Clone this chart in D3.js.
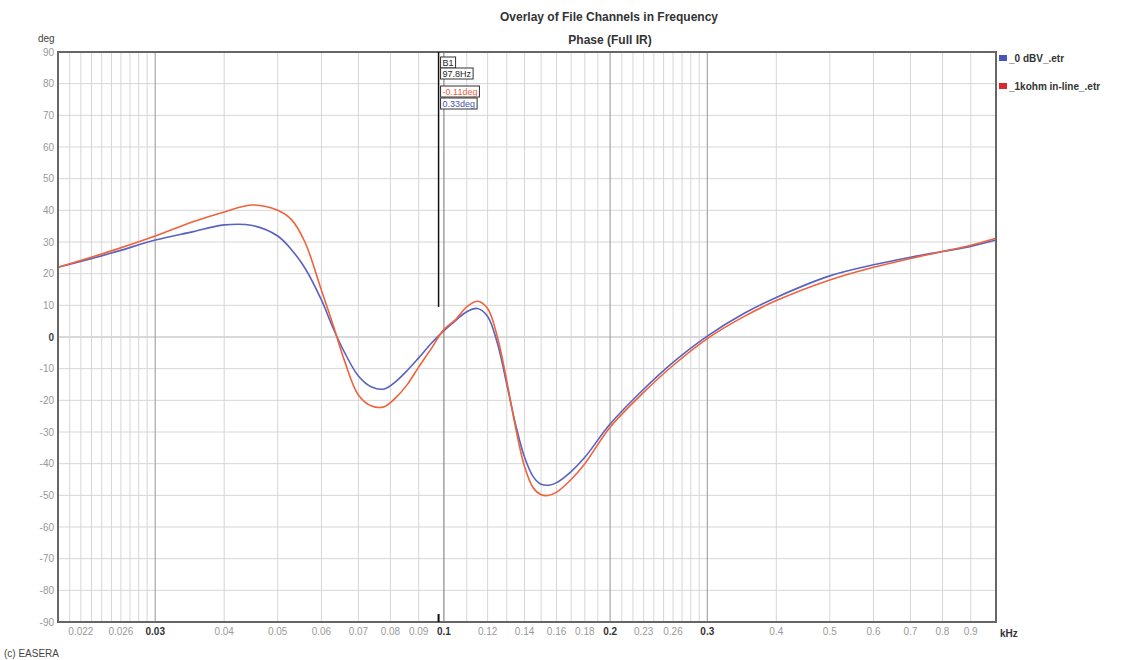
<!DOCTYPE html>
<html>
<head>
<meta charset="utf-8">
<script src="https://cdn.jsdelivr.net/npm/d3@7"></script>
<style>
  html, body { margin: 0; padding: 0; background: #fff; }
  svg { display: block; font-family: "Liberation Sans", Arial, sans-serif; }
</style>
</head>
<body>
<div id="chart"></div>
<script>
// frequencies in kHz, phase in degrees
const freqs = [0.02, 0.025, 0.03, 0.035, 0.04, 0.045, 0.05, 0.053, 0.056, 0.06,
  0.063, 0.066, 0.07, 0.074, 0.078, 0.082, 0.086, 0.09, 0.095, 0.1,
  0.105, 0.11, 0.115, 0.12, 0.125, 0.13, 0.135, 0.14, 0.145, 0.15,
  0.155, 0.16, 0.17, 0.18, 0.2, 0.23, 0.26, 0.3, 0.35, 0.4,
  0.5, 0.6, 0.7, 0.8, 0.9, 1.0];

const phase0dBV = [22, 26.5, 30.6, 33.2, 35.4, 35.2, 31.9, 27.5, 21.8, 11.7,
  2.8, -4.7, -12.3, -15.8, -16.4, -13.9, -10.4, -6.6, -1.9, 2,
  5.2, 8, 9, 6.5, -2, -15, -28, -38, -44, -46.5,
  -46.8, -46, -42.5, -38, -27.5, -16.5, -8, 0.3, 7.5, 12.5,
  19.3, 22.8, 25.2, 27, 28.6, 30.6];

const phase1kohm = [22, 27.2, 31.9, 36.3, 39.5, 41.7, 40, 37, 30, 14.8,
  3.8, -7.3, -18.3, -21.8, -22, -19, -14.8, -9.5, -3.5, 2.4,
  5.5, 9.5, 11.3, 9, 0, -14, -29, -41, -47.5, -49.8,
  -50, -49, -45, -40, -28.5, -17.5, -9, -0.5, 6.5, 11.5,
  18, 22, 24.8, 27, 29, 31.2];

const seriesNames = ["_0 dBV_.etr", "_1kohm in-line_.etr"];
const seriesColors = ["#5a62bf", "#f0623c"];
const legendColors = ["#4a55b5", "#e2242c"];

const yTicks = d3.range(-90, 91, 10);
const xMajor = [0.03, 0.1, 0.2, 0.3];
const xMinor = [0.021, 0.022, 0.023, 0.024, 0.025, 0.026, 0.027, 0.028, 0.029,
  0.04, 0.05, 0.06, 0.07, 0.08, 0.09,
  0.11, 0.12, 0.13, 0.14, 0.15, 0.16, 0.17, 0.18, 0.19,
  0.21, 0.22, 0.23, 0.24, 0.25, 0.26, 0.27, 0.28, 0.29,
  0.4, 0.5, 0.6, 0.7, 0.8, 0.9];
const xLabels = [0.022, 0.026, 0.03, 0.04, 0.05, 0.06, 0.07, 0.08, 0.09, 0.1,
  0.12, 0.14, 0.16, 0.18, 0.2, 0.23, 0.26, 0.3, 0.4, 0.5, 0.6, 0.7, 0.8, 0.9];

const cursorFreq = 0.0978;
const cursorTop = 90, cursorBottom = 9.5;
const cursorLabels = ["B1", "97.8Hz", "-0.11deg", "0.33deg"];
const cursorLabelColors = ["#222", "#222", "#f0623c", "#4a55b5"];

const W = 1129, H = 660;
const plot = { left: 58, right: 996, top: 52, bottom: 622 };

const x = d3.scaleLog().domain([0.02, 1.0]).range([plot.left, plot.right]);
const y = d3.scaleLinear().domain([-90, 90]).range([plot.bottom, plot.top]);

const svg = d3.select("#chart").append("svg")
  .attr("width", W).attr("height", H)
  .attr("viewBox", [0, 0, W, H]);

// titles
svg.append("text")
  .attr("x", 609).attr("y", 21)
  .attr("text-anchor", "middle")
  .attr("font-size", 12).attr("font-weight", "bold").attr("fill", "#333")
  .text("Overlay of File Channels in Frequency");
svg.append("text")
  .attr("x", 610).attr("y", 44)
  .attr("text-anchor", "middle")
  .attr("font-size", 12).attr("font-weight", "bold").attr("fill", "#333")
  .text("Phase (Full IR)");

// grid
let grid = svg.append("g");
grid.selectAll("line.ygrid")
  .data(yTicks)
  .join("line")
  .attr("class", "ygrid")
  .attr("x1", plot.left).attr("x2", plot.right)
  .attr("y1", d => y(d)).attr("y2", d => y(d))
  .attr("stroke", d => d === 0 ? "#b4b4b4" : "#d6d6d6")
  .attr("stroke-width", 1);
grid.selectAll("line.xminor")
  .data(xMinor)
  .join("line")
  .attr("class", "xminor")
  .attr("x1", d => x(d)).attr("x2", d => x(d))
  .attr("y1", plot.top).attr("y2", plot.bottom)
  .attr("stroke", "#d6d6d6")
  .attr("stroke-width", 1);
grid.selectAll("line.xmajor")
  .data(xMajor)
  .join("line")
  .attr("class", "xmajor")
  .attr("x1", d => x(d)).attr("x2", d => x(d))
  .attr("y1", plot.top).attr("y2", plot.bottom)
  .attr("stroke", d => d === 0.1 ? "#8a8a8a" : "#a6a6a6")
  .attr("stroke-width", 1.2);

// y labels
svg.append("g").selectAll("text")
  .data(yTicks)
  .join("text")
  .attr("x", 54).attr("y", d => y(d) + 3.5)
  .attr("text-anchor", "end")
  .attr("font-size", 10)
  .attr("font-weight", d => d === 0 ? "bold" : "normal")
  .attr("fill", d => d === 0 ? "#444" : "#999")
  .text(d => d);
svg.append("text")
  .attr("x", 38).attr("y", 42)
  .attr("font-size", 10).attr("fill", "#444")
  .text("deg");

// x labels
svg.append("g").selectAll("text")
  .data(xLabels)
  .join("text")
  .attr("x", d => x(d)).attr("y", 635)
  .attr("text-anchor", "middle")
  .attr("font-size", 10)
  .attr("font-weight", d => xMajor.includes(d) ? "bold" : "normal")
  .attr("fill", d => xMajor.includes(d) ? "#333" : "#9a9a9a")
  .text(d => d);
svg.append("text")
  .attr("x", 1000).attr("y", 637)
  .attr("font-size", 10).attr("font-weight", "bold").attr("fill", "#333")
  .text("kHz");
svg.append("text")
  .attr("x", 4).attr("y", 657)
  .attr("font-size", 10).attr("fill", "#444")
  .text("(c) EASERA");

// curves
const line = d3.line()
  .x(d => x(d[0]))
  .y(d => y(d[1]))
  .curve(d3.curveCatmullRom.alpha(0.5));

let curves = svg.append("g");
[phase0dBV, phase1kohm].forEach((vals, i) => {
  curves.append("path")
    .attr("d", line(freqs.map((f, j) => [f, vals[j]])))
    .attr("fill", "none")
    .attr("stroke", seriesColors[i])
    .attr("stroke-width", 1.6);
});

// frame
svg.append("rect")
  .attr("x", plot.left).attr("y", plot.top)
  .attr("width", plot.right - plot.left)
  .attr("height", plot.bottom - plot.top)
  .attr("fill", "none")
  .attr("stroke", "#666")
  .attr("stroke-width", 2);

// cursor
let cx = x(cursorFreq);
svg.append("line")
  .attr("x1", cx).attr("x2", cx)
  .attr("y1", y(cursorTop)).attr("y2", y(cursorBottom))
  .attr("stroke", "#111").attr("stroke-width", 1.5);
svg.append("line")
  .attr("x1", cx).attr("x2", cx)
  .attr("y1", plot.bottom - 8).attr("y2", plot.bottom)
  .attr("stroke", "#111").attr("stroke-width", 2);

let boxes = svg.append("g");
const boxY = [57, 68, 86, 98];
cursorLabels.forEach((t, i) => {
  let g = boxes.append("g").attr("transform", `translate(${cx + 2},${boxY[i]})`);
  let txt = g.append("text")
    .attr("x", 2).attr("y", 8.5)
    .attr("font-size", 9)
    .attr("fill", cursorLabelColors[i])
    .text(t);
  let w = txt.node().getComputedTextLength() + 4;
  g.insert("rect", "text")
    .attr("x", 0).attr("y", 0)
    .attr("width", w).attr("height", 11)
    .attr("fill", "#fff")
    .attr("stroke", "#333").attr("stroke-width", 1);
});

// legend
let legend = svg.append("g");
seriesNames.forEach((name, i) => {
  let ly = 58 + i * 28;
  legend.append("rect")
    .attr("x", 999).attr("y", ly - 3)
    .attr("width", 8).attr("height", 6)
    .attr("fill", legendColors[i]);
  legend.append("text")
    .attr("x", 1009).attr("y", ly + 3.5)
    .attr("font-size", 10).attr("font-weight", "bold").attr("fill", "#333")
    .text(name);
});
</script>
</body>
</html>
